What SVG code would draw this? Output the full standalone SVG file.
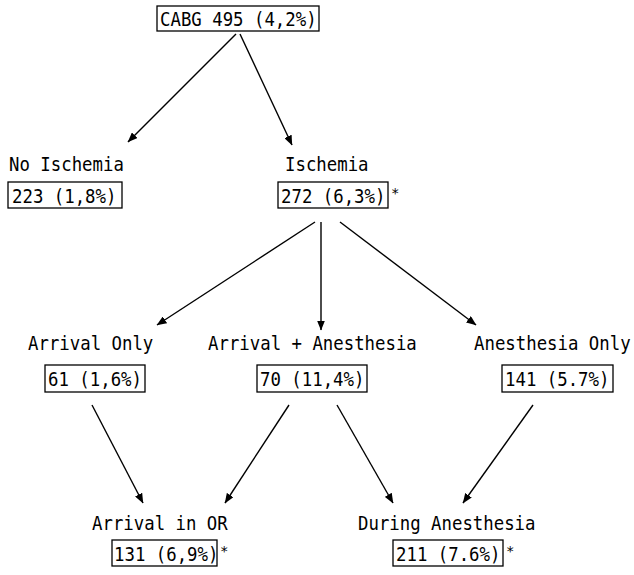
<svg xmlns="http://www.w3.org/2000/svg" width="634" height="575" viewBox="0 0 634 575">
<style>
text{font-family:"DejaVu Sans Mono","Liberation Mono",monospace;font-size:17.35px;fill:#000}
.box{fill:none;stroke:#000;stroke-width:1.3}
.edge{stroke:#000;stroke-width:1.4;fill:none;marker-end:url(#ah)}
.star{font-size:14px}
</style>
<defs>
<marker id="ah" markerUnits="userSpaceOnUse" markerWidth="10" markerHeight="8" refX="9.5" refY="4" orient="auto">
<path d="M0,0 L10,4 L0,8 z" fill="#000"/>
</marker>
</defs>
<rect width="634" height="575" fill="#fff"/>
<g id="edges">
<line class="edge" x1="236" y1="34" x2="128" y2="142"/>
<line class="edge" x1="240" y1="34" x2="292" y2="145"/>
<line class="edge" x1="315" y1="222" x2="157" y2="325"/>
<line class="edge" x1="321" y1="222" x2="321" y2="330"/>
<line class="edge" x1="340" y1="222" x2="476" y2="325"/>
<line class="edge" x1="92" y1="405" x2="143" y2="503"/>
<line class="edge" x1="289" y1="405" x2="225" y2="503"/>
<line class="edge" x1="337" y1="405" x2="393" y2="503"/>
<line class="edge" x1="533" y1="405" x2="463" y2="503"/>
</g>
<g id="n-cabg">
<rect class="box" x="157" y="6" width="162" height="25"/>
<text transform="translate(160,26) scale(1,1.12)">CABG 495 (4,2%)</text>
</g>
<g id="n-noischemia">
<text transform="translate(9,171) scale(1,1.12)">No Ischemia</text>
<rect class="box" x="8" y="182" width="114" height="26"/>
<text transform="translate(12,203) scale(1,1.12)">223 (1,8%)</text>
</g>
<g id="n-ischemia">
<text transform="translate(285,171) scale(1,1.12)">Ischemia</text>
<rect class="box" x="278" y="182" width="110" height="26"/>
<text transform="translate(281,203) scale(1,1.12)">272 (6,3%)</text>
<text class="star" x="391" y="198">*</text>
</g>
<g id="n-arrivalonly">
<text transform="translate(28,350) scale(1,1.12)">Arrival Only</text>
<rect class="box" x="45" y="365" width="100" height="27"/>
<text transform="translate(48,386) scale(1,1.12)">61 (1,6%)</text>
</g>
<g id="n-arrivalanesthesia">
<text transform="translate(208,350) scale(1,1.12)">Arrival + Anesthesia</text>
<rect class="box" x="257" y="365" width="110" height="27"/>
<text transform="translate(260,386) scale(1,1.12)">70 (11,4%)</text>
</g>
<g id="n-anesthesiaonly">
<text transform="translate(474,350) scale(1,1.12)">Anesthesia Only</text>
<rect class="box" x="502" y="365" width="111" height="27"/>
<text transform="translate(505,386) scale(1,1.12)">141 (5.7%)</text>
</g>
<g id="n-arrivalor">
<text transform="translate(92,530) scale(1,1.12)">Arrival in OR</text>
<rect class="box" x="112" y="540" width="105" height="26"/>
<text transform="translate(114,561) scale(1,1.12)">131 (6,9%)</text>
<text class="star" x="220" y="556">*</text>
</g>
<g id="n-during">
<text transform="translate(358,530) scale(1,1.12)">During Anesthesia</text>
<rect class="box" x="393" y="540" width="110" height="26"/>
<text transform="translate(396,561) scale(1,1.12)">211 (7.6%)</text>
<text class="star" x="506" y="556">*</text>
</g>
</svg>
